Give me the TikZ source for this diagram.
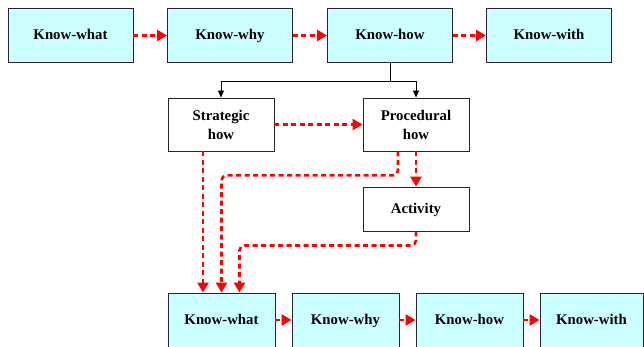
\documentclass[tikz,border=0pt]{standalone}
\usepackage{fontspec}
\setmainfont{Liberation Serif}
\usetikzlibrary{arrows.meta}
\definecolor{boxcyan}{HTML}{CCFFFF}
\definecolor{flowred}{HTML}{FF0000}
\begin{document}
\begin{tikzpicture}[x=1pt,y=-1pt,
  label font/.style={font=\bfseries\fontsize{14.8}{19}\selectfont},
  one line/.style={text height=10.5pt, text depth=1.5pt},
  kbox/.style={draw=black!85, line width=0.9pt, fill=boxcyan, inner sep=0pt,
    minimum width=#1, minimum height=54pt, align=center, label font, one line},
  kbox/.default=125pt,
  wbox/.style={draw=black!85, line width=0.9pt, fill=white, inner sep=0pt,
    minimum width=106pt, minimum height=#1, align=center, label font},
  wbox/.default=53pt,
  flow/.style={draw=flowred, line width=2.6pt, dash pattern=on 5pt off 3.5pt,
    rounded corners=5pt, -{Triangle[length=10pt,width=11pt]}},
  split/.style={draw=black, line width=0.8pt, -{Triangle[length=7pt,width=6pt]}}
]
\useasboundingbox (0,0) rectangle (644,347);

% upper chain
\node[kbox] (tw)  at (70.5,35.5) {Know-what};
\node[kbox] (ty)  at (230,35.5)  {Know-why};
\node[kbox] (th)  at (390,35.5)  {Know-how};
\node[kbox] (tt)  at (549,35.5)  {Know-with};

% middle
\node[wbox] (sh)  at (221,124.5) {Strategic\\how};
\node[wbox] (ph)  at (416,124.5) {Procedural\\how};
\node[wbox=44pt, one line] (act) at (416,209) {Activity};

% lower chain
\node[kbox=107pt] (bw) at (221.5,320) {Know-what};
\node[kbox=107pt] (by) at (345.5,320) {Know-why};
\node[kbox=107pt] (bh) at (469.5,320) {Know-how};
\node[kbox=103pt] (bt) at (591.5,320) {Know-with};

% upper flow
\draw[flow] (tw) -- (ty);
\draw[flow] (ty) -- (th);
\draw[flow] (th) -- (tt);

% split of know-how
\draw[line width=0.8pt] (th.south) -- ++(0,18) coordinate (fork);
\draw[split] (fork) -| (sh.north);
\draw[split] (fork) -| (ph.north);

% middle flows
\draw[flow] (sh) -- (ph);
\draw[flow] (ph.south) -- (act.north);
\draw[flow] ([xshift=-18pt]sh.south) -- ([xshift=-18.5pt]bw.north);
\draw[flow] ([xshift=-18pt]ph.south) -- ++(0,24) -| (bw.north);
\draw[flow] (act.south) -- ++(0,14) -| ([xshift=18pt]bw.north);

% lower flow
\draw[flow] (bw) -- (by);
\draw[flow] (by) -- (bh);
\draw[flow] (bh) -- (bt);
\end{tikzpicture}
\end{document}
